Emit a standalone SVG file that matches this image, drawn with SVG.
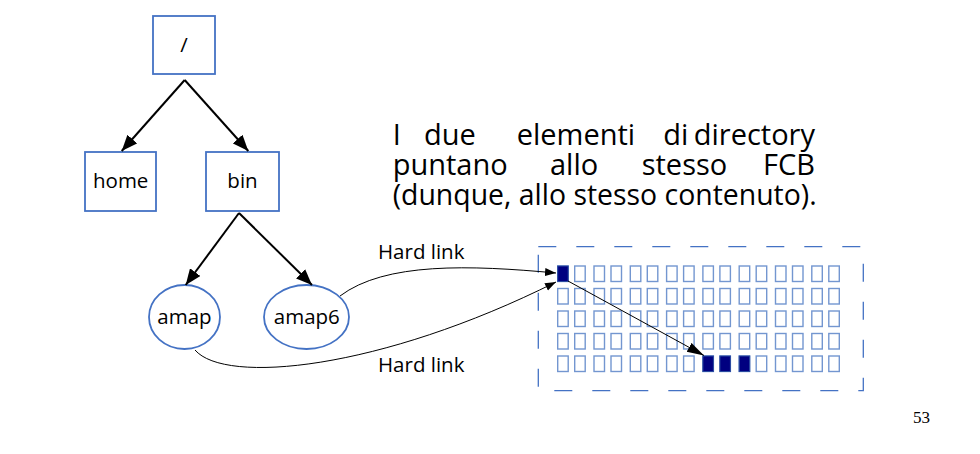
<svg xmlns="http://www.w3.org/2000/svg" xmlns:xlink="http://www.w3.org/1999/xlink" width="980" height="454" viewBox="0 0 980 454">
<style>
.box{fill:#fff;stroke:#4472c4;stroke-width:1.8}
.lbl{font-family:"Open Sans","Liberation Sans",sans-serif;font-size:20.5px;fill:#000}
.para{font-family:"Open Sans","Liberation Sans",sans-serif;font-size:29px;fill:#000}
.tree{stroke:#000;stroke-width:2;fill:none}
.thin{stroke:#000;stroke-width:1;fill:none}
.cell{fill:#fff;stroke:#7396d0;stroke-width:1.4}
.full{fill:#000080;stroke:#2a4aa0;stroke-width:1}
</style>
<defs>
<marker id="big" markerUnits="userSpaceOnUse" markerWidth="17" markerHeight="13" refX="16" refY="6.5" orient="auto"><path d="M0,0 L16,6.5 L0,13 z" fill="#000"/></marker>
<marker id="small" markerUnits="userSpaceOnUse" markerWidth="12" markerHeight="9" refX="11" refY="4" orient="auto"><path d="M0,0 L11,4 L0,8 z" fill="#000"/></marker>
<marker id="mid" markerUnits="userSpaceOnUse" markerWidth="18" markerHeight="11" refX="17" refY="5" orient="auto"><path d="M0,0 L17,5 L0,10 z" fill="#000"/></marker>
<g id="row">
<rect class="cell" x="557.7" y="0" width="10.5" height="15.5"/><rect class="cell" x="574.7" y="0" width="10.5" height="15.5"/>
<rect class="cell" x="594" y="0" width="10.5" height="15.5"/><rect class="cell" x="611" y="0" width="10.5" height="15.5"/>
<rect class="cell" x="630.3" y="0" width="10.5" height="15.5"/><rect class="cell" x="647.3" y="0" width="10.5" height="15.5"/>
<rect class="cell" x="666.6" y="0" width="10.5" height="15.5"/><rect class="cell" x="683.6" y="0" width="10.5" height="15.5"/>
<rect class="cell" x="702.9" y="0" width="10.5" height="15.5"/><rect class="cell" x="719.9" y="0" width="10.5" height="15.5"/>
<rect class="cell" x="739.2" y="0" width="10.5" height="15.5"/><rect class="cell" x="756.2" y="0" width="10.5" height="15.5"/>
<rect class="cell" x="775.5" y="0" width="10.5" height="15.5"/><rect class="cell" x="792.5" y="0" width="10.5" height="15.5"/>
<rect class="cell" x="811.8" y="0" width="10.5" height="15.5"/><rect class="cell" x="828.8" y="0" width="10.5" height="15.5"/>
</g>
</defs>
<rect width="980" height="454" fill="#fff"/>

<g id="root"><rect class="box" x="153" y="16" width="62" height="58"/><text class="lbl" x="184" y="52" text-anchor="middle">/</text></g>
<g id="home"><rect class="box" x="85" y="152" width="71" height="59"/><text class="lbl" x="120.7" y="188" text-anchor="middle">home</text></g>
<g id="bin"><rect class="box" x="206" y="152" width="73" height="59"/><text class="lbl" x="242.5" y="188" text-anchor="middle">bin</text></g>
<g id="amap"><ellipse class="box" cx="184.5" cy="317" rx="35.5" ry="32"/><text class="lbl" x="184.5" y="323.5" text-anchor="middle">amap</text></g>
<g id="amap6"><ellipse class="box" cx="306.5" cy="317" rx="42.5" ry="32"/><text class="lbl" x="306.8" y="323.5" text-anchor="middle">amap6</text></g>

<g id="disk">
<rect x="538.3" y="246.7" width="325" height="144" fill="none" stroke="#4472c4" stroke-width="1.3" stroke-dasharray="18 20"/>
<use xlink:href="#row" y="266"/>
<use xlink:href="#row" y="288.5"/>
<use xlink:href="#row" y="311"/>
<use xlink:href="#row" y="333.5"/>
<use xlink:href="#row" y="356"/>
<rect class="full" x="557.7" y="266" width="10.5" height="15.5"/>
<rect class="full" x="702.9" y="356" width="10.5" height="15.5"/>
<rect class="full" x="719.9" y="356" width="10.5" height="15.5"/>
<rect class="full" x="739.2" y="356" width="10.5" height="15.5"/>
</g>

<g id="connectors">
<path class="tree" d="M184.7,80 L121.7,151" marker-end="url(#big)"/>
<path class="tree" d="M184.7,80 L248.3,151" marker-end="url(#big)"/>
<path class="tree" d="M239,213 L185.7,285" marker-end="url(#big)"/>
<path class="tree" d="M239,213 L312,285" marker-end="url(#big)"/>
<path class="thin" d="M340,296 C385,262 470,265 556,273" marker-end="url(#small)"/>
<path class="thin" d="M195,350 C225,385 380,370 556,282" marker-end="url(#small)"/>
<path class="thin" d="M568,281 L704,355.5" marker-end="url(#mid)"/>
</g>

<text class="lbl" x="378" y="259">Hard link</text>
<text class="lbl" x="378" y="372">Hard link</text>

<g id="caption">
<text class="para" x="392.7" y="145">I</text>
<text class="para" x="424" y="145">due</text>
<text class="para" x="516.7" y="145">elementi</text>
<text class="para" x="663.3" y="145">di</text>
<text class="para" x="815" y="145" text-anchor="end">directory</text>
<text class="para" x="392.7" y="175">puntano</text>
<text class="para" x="550" y="175">allo</text>
<text class="para" x="641.7" y="175">stesso</text>
<text class="para" x="815" y="175" text-anchor="end">FCB</text>
<text class="para" x="392.7" y="204.5" textLength="424" lengthAdjust="spacingAndGlyphs">(dunque, allo stesso contenuto).</text>
</g>

<text x="930" y="422.5" text-anchor="end" font-family="'Liberation Serif','Times New Roman',serif" font-size="17" fill="#000">53</text>
</svg>
